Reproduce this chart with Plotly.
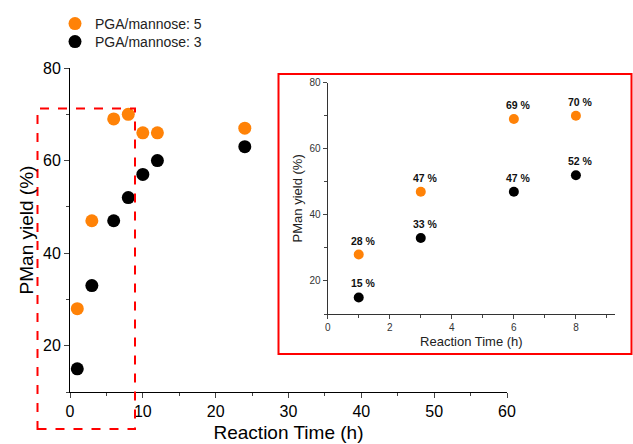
import plotly.graph_objects as go

# Data
time_h = [1, 3, 6, 8, 10, 12, 24]
yield_pga5 = [28, 47, 69, 70, 66, 66, 67]
yield_pga3 = [15, 33, 47, 52, 57, 60, 63]

inset_time = [1, 3, 6, 8]
inset_pga5 = [28, 47, 69, 70]
inset_pga3 = [15, 33, 47, 52]

series_names = ["PGA/mannose: 5", "PGA/mannose: 3"]
ORANGE = "#FF8207"
BLACK = "#000000"
FONT = "Liberation Sans, Arial, sans-serif"

W, H = 633, 444

fig = go.Figure()

fig.add_trace(go.Scatter(x=time_h, y=yield_pga5, mode="markers", name=series_names[0],
                         marker=dict(color=ORANGE, size=13), xaxis="x", yaxis="y",
                         legend="legend"))
fig.add_trace(go.Scatter(x=time_h, y=yield_pga3, mode="markers", name=series_names[1],
                         marker=dict(color=BLACK, size=13), xaxis="x", yaxis="y",
                         legend="legend2"))

fig.add_trace(go.Scatter(x=inset_time, y=inset_pga5, mode="markers", showlegend=False,
                         marker=dict(color=ORANGE, size=10), xaxis="x2", yaxis="y2"))
fig.add_trace(go.Scatter(x=inset_time, y=inset_pga3, mode="markers", showlegend=False,
                         marker=dict(color=BLACK, size=10), xaxis="x2", yaxis="y2"))

annotations = []
for xs, ys in ((inset_time, inset_pga5), (inset_time, inset_pga3)):
    for xv, yv in zip(xs, ys):
        annotations.append(dict(x=xv, y=yv, xref="x2", yref="y2", text=f"<b>{yv} %</b>",
                                showarrow=False, xshift=5, yshift=14,
                                font=dict(family=FONT, size=10.5, color="#111")))

def px_x(p):
    return p / W

def px_y(p):
    return 1 - p / H

# shapes (decorations)
shapes = [
    dict(type="rect", xref="paper", yref="paper",
         x0=px_x(278.5), x1=px_x(631.5), y0=px_y(354), y1=px_y(74),
         line=dict(color="#FF0000", width=2), fillcolor="white", layer="below"),
    dict(type="rect", xref="paper", yref="paper",
         x0=px_x(37.5), x1=px_x(135), y0=px_y(429), y1=px_y(108.5),
         line=dict(color="#FF0000", width=2, dash="dash"), layer="above"),
]

axis_common = dict(showline=True, linecolor="black", linewidth=1, ticks="outside",
                   showgrid=False, zeroline=False, mirror=False, automargin=False)

legend_common = dict(xanchor="left", yanchor="top",
                     font=dict(size=14, family=FONT, color="#222"),
                     bgcolor="rgba(0,0,0,0)", itemwidth=30)

fig.update_layout(
    width=W, height=H,
    margin=dict(l=0, r=0, t=0, b=0, pad=0),
    paper_bgcolor="white", plot_bgcolor="rgba(0,0,0,0)",
    font=dict(family=FONT, color="black"),
    showlegend=True,
    legend=dict(x=px_x(55), y=px_y(8), **legend_common),
    legend2=dict(x=px_x(55), y=px_y(26), **legend_common),
    xaxis=dict(domain=[px_x(70), px_x(507)], range=[0, 60], dtick=10,
               tickfont=dict(size=16), ticklen=5,
               minor=dict(dtick=5, ticks="outside", ticklen=3),
               title=dict(text="Reaction Time (h)", font=dict(size=19), standoff=6),
               anchor="y", **axis_common),
    yaxis=dict(domain=[px_y(392), px_y(68)], range=[10, 80], tick0=0, dtick=20,
               tickfont=dict(size=16), ticklen=5,
               minor=dict(dtick=10, tick0=0, ticks="outside", ticklen=3),
               title=dict(text="PMan yield (%)", font=dict(size=19), standoff=4),
               anchor="x", **axis_common),
    xaxis2=dict(domain=[px_x(327.7), px_x(615)], range=[0, 9.26], dtick=2,
                tickfont=dict(size=10, color="#333"), ticklen=4,
                minor=dict(dtick=1, ticks="outside", ticklen=3),
                title=dict(text="Reaction Time (h)", font=dict(size=13, color="#222"), standoff=4),
                anchor="y2", showline=True, linecolor="#333", linewidth=1, ticks="outside",
                showgrid=False, zeroline=False, automargin=False),
    yaxis2=dict(domain=[px_y(314), px_y(82.7)], range=[10, 80], tick0=0, dtick=20,
                tickfont=dict(size=10, color="#333"), ticklen=4,
                minor=dict(dtick=10, tick0=0, ticks="outside", ticklen=3),
                title=dict(text="PMan yield (%)", font=dict(size=13, color="#222"), standoff=4),
                anchor="x2", showline=True, linecolor="#333", linewidth=1, ticks="outside",
                showgrid=False, zeroline=False, automargin=False),
    shapes=shapes,
    annotations=annotations,
)

fig.write_html("out.html",
               config={"displayModeBar": False},
               post_script="document.body.style.margin='0';document.body.style.overflow='hidden';")
